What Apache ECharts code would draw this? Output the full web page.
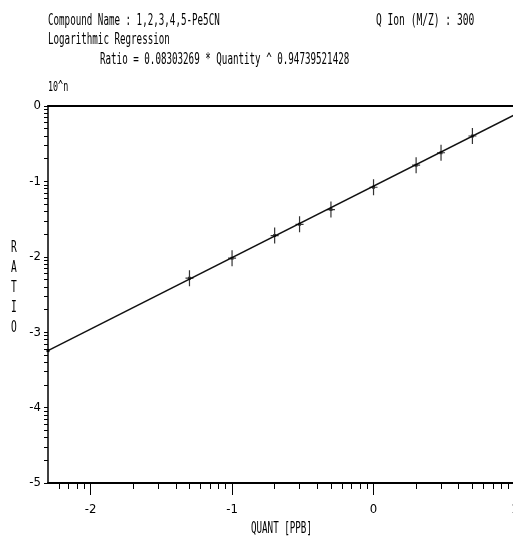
<!DOCTYPE html>
<html>
<head>
<meta charset="utf-8">
<script src="https://cdn.jsdelivr.net/npm/echarts@6/dist/echarts.min.js"></script>
<style>
  html, body { margin: 0; padding: 0; background: #fff; }
  #chart { width: 513px; height: 544px; }
</style>
</head>
<body>
<div id="chart"></div>
<script>
// calibration points (quantity in PPB, response ratio)
const quantPpb = [0.05, 0.1, 0.2, 0.3, 0.5, 1, 2, 3, 5];
const ratioVals = [0.0052, 0.0096, 0.0191, 0.027, 0.0423, 0.0836, 0.164, 0.24, 0.4];

// regression line end points
const fitQuant = [0.005, 10];
const fitRatio = [0.00057, 0.77];

// axis ticks, as powers of ten
const xTickExps = [-2, -1, 0, 1];
const yTickExps = [0, -1, -2, -3, -4, -5];

const ink = '#000';
const mono = '"DejaVu Sans Mono", monospace';
const narrow = '"Liberation Sans Narrow", "DejaVu Sans Condensed", "Liberation Sans", sans-serif';

const lg = (v) => Math.log10(v);

// minor ticks at 2..9 x 10^n inside a range of exponents
function minorTicks(lo, hi) {
  const out = [];
  for (let n = Math.floor(lo) - 1; n <= hi; n++) {
    for (let k = 2; k <= 9; k++) {
      const v = n + Math.log10(k);
      if (v > lo + 1e-6 && v < hi - 1e-6) out.push(v);
    }
  }
  return out;
}

const xMin = lg(fitQuant[0]);
const xMax = lg(fitQuant[1]);
const yMin = Math.min(...yTickExps);
const yMax = Math.max(...yTickExps);

const chart = echarts.init(document.getElementById('chart'));

const textEl = (x, y, text, size, sx) => ({
  type: 'text',
  x, y,
  scaleX: sx,
  style: { text, font: `${size}px ${mono}`, fill: ink, textVerticalAlign: 'middle' },
});

const option = {
  backgroundColor: '#fff',
  animation: false,
  grid: {
    left: 48, right: -2, top: 106, bottom: 61,
    containLabel: false,
    outerBoundsMode: 'none',
  },
  xAxis: [
    {
      type: 'value', min: xMin, max: xMax, position: 'bottom',
      axisLine: { onZero: false, lineStyle: { color: ink, width: 2 } },
      axisTick: { customValues: xTickExps, length: 12, lineStyle: { color: ink } },
      axisLabel: {
        customValues: xTickExps, margin: 20, color: ink,
        fontFamily: narrow, fontSize: 13,
        formatter: (v) => String(Math.round(v)),
      },
      splitLine: { show: false },
    },
    {
      type: 'value', min: xMin, max: xMax, position: 'bottom',
      axisLine: { show: false, onZero: false },
      axisTick: { customValues: minorTicks(xMin, xMax), length: 6, lineStyle: { color: ink } },
      axisLabel: { show: false },
      splitLine: { show: false },
    },
    {
      type: 'value', min: xMin, max: xMax, position: 'top',
      axisLine: { onZero: false, lineStyle: { color: ink, width: 2 } },
      axisTick: { show: false },
      axisLabel: { show: false },
      splitLine: { show: false },
    },
  ],
  yAxis: [
    {
      type: 'value', min: yMin, max: yMax, interval: 1, position: 'left',
      axisLine: { show: true, onZero: false, lineStyle: { color: ink, width: 1.5 } },
      axisTick: { show: true, length: 4, lineStyle: { color: ink } },
      axisLabel: {
        margin: 7, color: ink, fontFamily: narrow, fontSize: 13,
        formatter: (v) => String(v),
      },
      splitLine: { show: false },
    },
    {
      type: 'value', min: yMin, max: yMax, position: 'left',
      axisLine: { show: false, onZero: false },
      axisTick: { show: true, customValues: minorTicks(yMin, yMax), length: 4, lineStyle: { color: ink } },
      axisLabel: { show: false },
      splitLine: { show: false },
    },
  ],
  series: [
    {
      type: 'line',
      data: fitQuant.map((q, i) => [lg(q), lg(fitRatio[i])]),
      symbol: 'rect', symbolSize: 3, showSymbol: true,
      itemStyle: { color: ink },
      lineStyle: { color: '#111', width: 1.5 },
      silent: true,
      z: 2,
    },
    {
      type: 'scatter',
      data: quantPpb.map((q, i) => [lg(q), lg(ratioVals[i])]),
      symbol: 'path://M3.4,0H4.6V16H3.4Z M0,7.4H8V8.6H0Z M2.5,6.5H5.5V9.5H2.5Z',
      symbolSize: [8, 16],
      itemStyle: { color: ink },
      z: 3,
    },
  ],
  graphic: [
    textEl(48, 21, 'Compound Name : 1,2,3,4,5-Pe5CN', 16, 0.575),
    textEl(376, 21, 'Q Ion (M/Z) : 300', 16, 0.6),
    textEl(48, 40, 'Logarithmic Regression', 16, 0.575),
    textEl(100, 60, 'Ratio = 0.08303269 * Quantity ^ 0.94739521428', 16, 0.575),
    textEl(48, 87, '10^n', 14, 0.6),
    {
      type: 'text', x: 11, y: 288, scaleX: 0.6,
      style: { text: 'R\nA\nT\nI\nO', font: `16px ${mono}`, fill: ink, lineHeight: 20, textVerticalAlign: 'middle' },
    },
    textEl(251, 529, 'QUANT [PPB]', 16, 0.575),
  ],
};

chart.setOption(option);
</script>
</body>
</html>
